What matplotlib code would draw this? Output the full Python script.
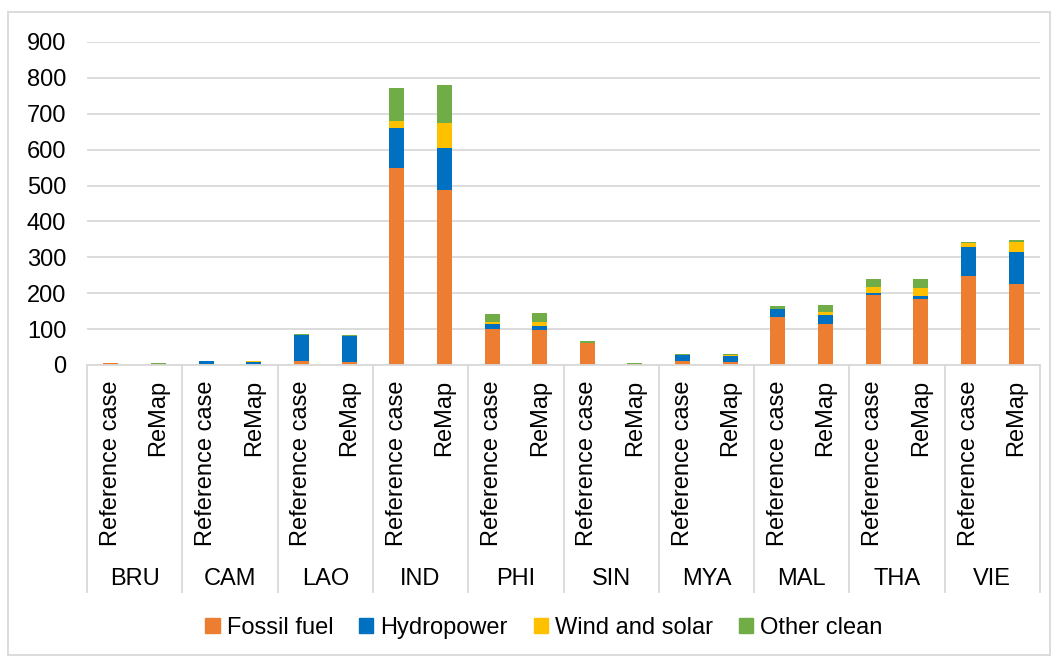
import numpy as np
import matplotlib
matplotlib.use("Agg")
import matplotlib.pyplot as plt
from matplotlib.patches import Rectangle

plt.rcParams['font.family'] = ['Liberation Sans', 'DejaVu Sans']

# 国家/地区与两种情景
countries = ['BRU', 'CAM', 'LAO', 'IND', 'PHI', 'SIN', 'MYA', 'MAL', 'THA', 'VIE']
scenarios = ['Reference case', 'ReMap']
sources = ['Fossil fuel', 'Hydropower', 'Wind and solar', 'Other clean']
colors = ['#ED7D31', '#0070C0', '#FFC000', '#70AD47']

# Reference case
ref_fossil = [5, 2, 11, 550, 101, 62, 12, 133, 195, 247]
ref_hydro = [0, 9, 73, 111, 14, 0, 17, 23, 6, 83]
ref_wind = [0, 0, 0, 18, 5, 0, 0, 0, 17, 11]
ref_other = [0, 0, 2, 92, 23, 4, 3, 8, 22, 2]

# ReMap
remap_fossil = [3, 1, 8, 489, 97, 2, 8, 113, 185, 226]
remap_hydro = [0, 8, 72, 116, 12, 0, 18, 26, 6, 89]
remap_wind = [1, 1, 2, 70, 10, 1, 3, 9, 24, 27]
remap_other = [1, 2, 2, 105, 25, 2, 2, 20, 25, 5]

yticks = [0, 100, 200, 300, 400, 500, 600, 700, 800, 900]

W, H = 1058, 658
FS = 17
fig = plt.figure(figsize=(W / 100, H / 100), dpi=100)
ax = fig.add_axes([87 / W, 1 - 365 / H, (1040 - 87) / W, (365 - 42) / H])

n = len(countries)
x = np.arange(n)
bar_w = 0.157
grey = '#D9D9D9'

for offset, series in [(0.25, [ref_fossil, ref_hydro, ref_wind, ref_other]),
                       (0.75, [remap_fossil, remap_hydro, remap_wind, remap_other])]:
    bottom = np.zeros(n)
    for vals, c in zip(series, colors):
        vals = np.array(vals, dtype=float)
        ax.bar(x + offset, vals, bar_w, bottom=bottom, color=c, linewidth=0, zorder=3)
        bottom += vals

ax.set_xlim(0, n)
ax.set_ylim(0, 900)
ax.set_yticks(yticks)
ax.tick_params(axis='y', length=0, labelsize=FS, pad=15)
ax.set_xticks([])
ax.yaxis.grid(True, color=grey, linewidth=1.3, zorder=0)
for s in ['left', 'right', 'top']:
    ax.spines[s].set_visible(False)
ax.spines['bottom'].set_color(grey)
ax.spines['bottom'].set_linewidth(1.3)
ax.spines['bottom'].set_zorder(4)

# 两级分类坐标轴
trans = ax.get_xaxis_transform()
ax_h = 365 - 42
for i in range(n + 1):
    ax.plot([i, i], [0, -227 / ax_h], color=grey, linewidth=1.3,
            transform=trans, clip_on=False)
for i, name in enumerate(countries):
    for offset, sc in zip([0.25, 0.75], scenarios):
        ax.text(i + offset, -15 / ax_h, sc, rotation=90, ha='center', va='top',
                fontsize=FS, transform=trans)
    ax.text(i + 0.5, -214 / ax_h, name, ha='center', va='center',
            fontsize=FS, transform=trans)

handles = [Rectangle((0, 0), 1, 1, color=c) for c in colors]
fig.legend(handles, sources, loc='center', bbox_to_anchor=(544 / W, 30 / H),
           ncol=4, frameon=False, fontsize=FS, handlelength=0.6, handleheight=0.6,
           handletextpad=0.3, columnspacing=1.1)

fig.patches.append(Rectangle((8 / W, 3 / H), (1050 - 8) / W, (646 - 3) / H,
                             transform=fig.transFigure, fill=False,
                             edgecolor=grey, linewidth=1.3))

fig.savefig('out.png', dpi=100)
